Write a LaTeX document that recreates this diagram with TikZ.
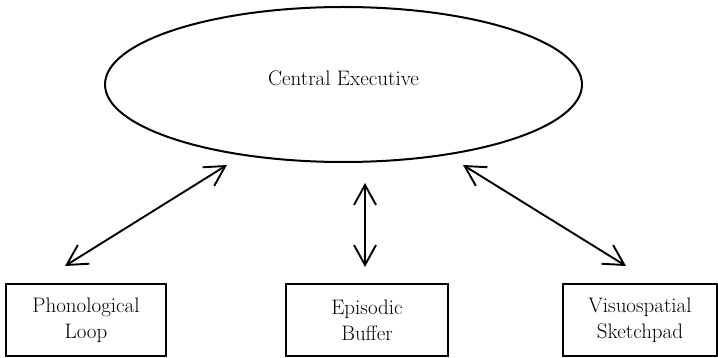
\documentclass[tikz,border=0pt]{standalone}
\usetikzlibrary{arrows.meta,shapes.geometric}
\begin{document}
\begin{tikzpicture}[x=1pt,y=-1pt,
  txt/.style={font=\fontsize{21}{26}\selectfont},
  comp/.style={draw, line width=2.5pt, rectangle, minimum height=72pt, inner sep=0pt, align=center, txt},
  barb/.tip={Straight Barb[length=20pt,width=22pt]},
  link/.style={line width=1.9pt, barb-barb}
]
\useasboundingbox (0,0) rectangle (718,358);
\node[ellipse, draw, line width=2pt, minimum width=477pt, minimum height=155pt, inner sep=0pt,
  label={[txt, yshift=6.5pt]center:Central Executive}] (ce) at (343.5,84.5) {};
\node[comp, minimum width=160pt] (pl) at (86,320) {Phonological\\Loop};
\node[comp, minimum width=162pt] (eb) at (367,320) {Episodic\\Buffer};
\node[comp, minimum width=154pt] (vs) at (640,320) {Visuospatial\\Sketchpad};
\coordinate (pl-top) at (65,266);
\coordinate (ce-left) at (227,165);
\coordinate (ce-mid) at (365,183);
\coordinate (eb-top) at (365,267);
\coordinate (ce-right) at (463,165);
\coordinate (vs-top) at (626,266);
\draw[link] (pl-top) -- (ce-left);
\draw[link] (ce-mid) -- (eb-top);
\draw[link] (ce-right) -- (vs-top);
\end{tikzpicture}
\end{document}
